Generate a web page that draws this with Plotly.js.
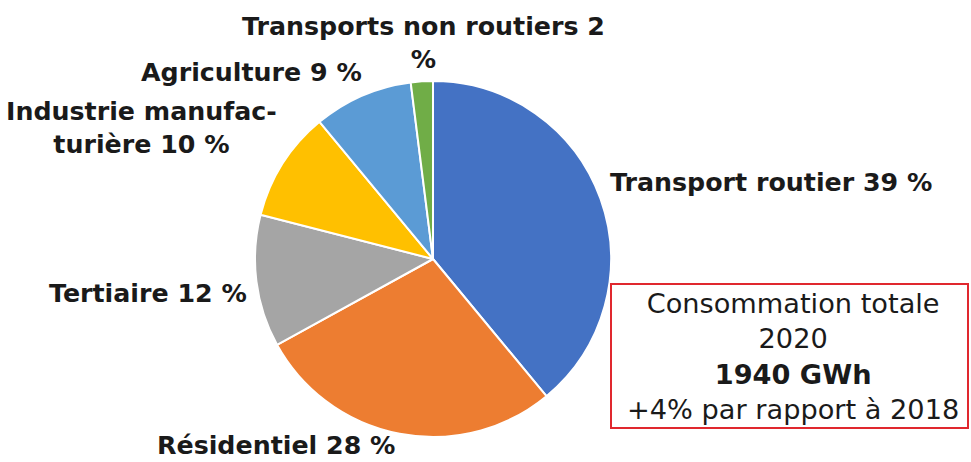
<!DOCTYPE html>
<html>
<head>
<meta charset="utf-8">
<script src="https://cdn.plot.ly/plotly-3.0.1.min.js"></script>
<style>html,body{margin:0;padding:0;background:#fff;}#chart{width:971px;height:462px;}</style>
</head>
<body>
<div id="chart"></div>
<script>
// Data
const categories = ["Transport routier", "Résidentiel", "Tertiaire", "Industrie manufacturière", "Agriculture", "Transports non routiers"];
const displayLabels = ["Transport routier", "Résidentiel", "Tertiaire", "Industrie manufac-<br>turière", "Agriculture", "Transports non routiers 2<br>"];
const shares = [39, 28, 12, 10, 9, 2];
const sliceColors = ["#4472C4", "#ED7D31", "#A5A5A5", "#FFC000", "#5B9BD5", "#70AD47"];
const boxLines = ["Consommation totale", "2020", "<b>1940 GWh</b>", "+4% par rapport à 2018"];

// Layout helpers (pixel -> paper)
const W = 971, H = 462;
const px = x => x / W;
const py = y => 1 - y / H;

// Label placement (pixels)
const labelPos = [
  {x: 608, y: 183, anchor: "left"},
  {x: 276, y: 445, anchor: "center"},
  {x: 148, y: 293, anchor: "center"},
  {x: 141, y: 128, anchor: "center"},
  {x: 251, y: 72, anchor: "center"},
  {x: 423, y: 43, anchor: "center"}
];

function labelText(i) {
  if (i === 5) return displayLabels[i] + "%";
  return displayLabels[i] + " " + shares[i] + " %";
}

const annotations = categories.map((c, i) => ({
  xref: "paper", yref: "paper",
  x: px(labelPos[i].x), y: py(labelPos[i].y),
  xanchor: labelPos[i].anchor, yanchor: "middle",
  text: "<b>" + labelText(i) + "</b>",
  showarrow: false,
  align: "center",
  font: {family: "DejaVu Sans", size: 25.3, color: "#1a1a1a"}
}));

annotations.push({
  xref: "paper", yref: "paper",
  x: px(793), y: py(356),
  xanchor: "center", yanchor: "middle",
  text: boxLines.join("<br>"),
  showarrow: false,
  align: "center",
  font: {family: "DejaVu Sans", size: 27.2, color: "#1a1a1a"}
});

const cx = 433, cy = 259, r = 178;

const trace = {
  type: "pie",
  labels: categories,
  values: shares,
  sort: false,
  direction: "clockwise",
  rotation: 0,
  textinfo: "none",
  hoverinfo: "label+percent",
  marker: {colors: sliceColors, line: {color: "#ffffff", width: 2}},
  domain: {x: [px(cx - r), px(cx + r)], y: [py(cy + r), py(cy - r)]}
};

const layout = {
  width: W, height: H,
  margin: {l: 0, r: 0, t: 0, b: 0},
  paper_bgcolor: "#ffffff",
  showlegend: false,
  annotations: annotations,
  shapes: [{
    type: "rect", xref: "paper", yref: "paper",
    x0: px(611), x1: px(968), y0: py(428), y1: py(284),
    line: {color: "#E0282E", width: 2},
    fillcolor: "rgba(0,0,0,0)"
  }]
};

Plotly.newPlot("chart", [trace], layout, {displayModeBar: false, staticPlot: true});
</script>
</body>
</html>
